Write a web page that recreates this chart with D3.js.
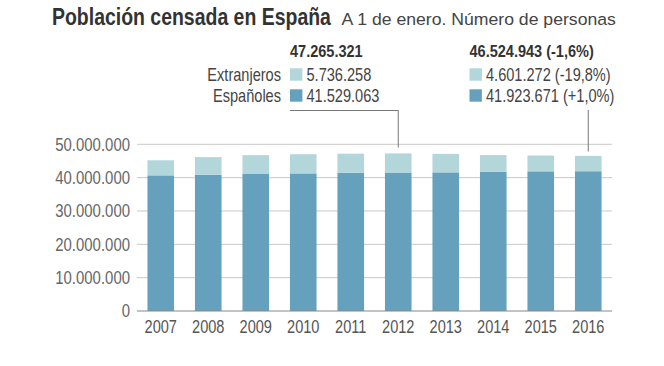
<!DOCTYPE html>
<html><head><meta charset="utf-8">
<script src="https://cdn.jsdelivr.net/npm/d3@7"></script>
<style>
body{margin:0;background:#fff;}
svg{display:block;}
</style></head>
<body>
<svg id="c" width="664" height="366"></svg>
<script>
const years = ["2007","2008","2009","2010","2011","2012","2013","2014","2015","2016"];
const espanoles = [40681183,40889060,41097136,41273297,41439006,41529063,41583545,41747854,41894738,41923671];
const extranjeros = [4519554,5268762,5648671,5747734,5751487,5736258,5546238,5023487,4729644,4601272];
const yTicks = [0,10000000,20000000,30000000,40000000,50000000];
const titleText = "Población censada en España";
const subtitleText = "A 1 de enero. Número de personas";
const seriesLabels = ["Extranjeros","Españoles"];
const note2012 = {year:"2012", total:"47.265.321", ext:"5.736.258", esp:"41.529.063"};
const note2016 = {year:"2016", total:"46.524.943 (-1,6%)", ext:"4.601.272 (-19,8%)", esp:"41.923.671 (+1,0%)"};

const colEsp = "#65a1bd", colExt = "#b3d6db";
const FONT = "'Liberation Sans',Arial,sans-serif";
const NARROW = 0.81;
const svg = d3.select("#c");

const x = d3.scaleBand().domain(years).range([137,612]).paddingInner(0.44).paddingOuter(0.22);
const y = d3.scaleLinear().domain([0,50000000]).range([311,144.3]);
const fmt = d3.formatLocale({decimal:",", thousands:".", grouping:[3], currency:["","€"]}).format(",");

// narrow text helper: places text at (tx,ty) horizontally compressed
function ntext(parent, tx, ty, str, opts){
  const o = Object.assign({size:18, weight:"normal", anchor:"start", fill:"#444", sx:NARROW, dy:null}, opts||{});
  const t = parent.append("text")
    .attr("transform", `translate(${tx},${ty}) scale(${o.sx},1)`)
    .attr("text-anchor", o.anchor).attr("font-family", FONT)
    .attr("font-size", o.size).attr("font-weight", o.weight).attr("fill", o.fill).text(str);
  if (o.dy) t.attr("dy", o.dy);
  return t;
}
function fitText(parent, tx, ty, str, width, opts){
  const t = ntext(parent, tx, ty, str, Object.assign({}, opts, {sx:1}));
  const w = t.node().getComputedTextLength();
  t.attr("transform", `translate(${tx},${ty}) scale(${width/w},1)`);
  return t;
}

// title
fitText(svg, 52, 25, titleText, 279, {size:23, weight:"bold", fill:"#333"});
fitText(svg, 341.5, 25, subtitleText, 274.5, {size:17, fill:"#444"});

// gridlines
svg.append("g").selectAll("line").data(yTicks.filter(d=>d>0)).join("line")
  .attr("x1",137).attr("x2",612).attr("y1",d=>y(d)).attr("y2",d=>y(d))
  .attr("stroke","#c8c8c8").attr("stroke-width",1);

// y labels
const yl = svg.append("g");
yTicks.forEach(d => ntext(yl, 130, y(d), fmt(d), {anchor:"end", fill:"#666", dy:"0.36em", sx:0.83}));

// bars
const g = svg.append("g");
g.selectAll("rect.esp").data(years).join("rect").attr("class","esp")
  .attr("x",d=>x(d)).attr("width",x.bandwidth())
  .attr("y",(d,i)=>y(espanoles[i])).attr("height",(d,i)=>y(0)-y(espanoles[i])).attr("fill",colEsp);
g.selectAll("rect.ext").data(years).join("rect").attr("class","ext")
  .attr("x",d=>x(d)).attr("width",x.bandwidth())
  .attr("y",(d,i)=>y(espanoles[i]+extranjeros[i])).attr("height",(d,i)=>y(espanoles[i])-y(espanoles[i]+extranjeros[i])).attr("fill",colExt);

// baseline
svg.append("line").attr("x1",137).attr("x2",612).attr("y1",y(0)).attr("y2",y(0)).attr("stroke","#888").attr("stroke-width",1.2);

// year labels
const xl = svg.append("g");
years.forEach(d => ntext(xl, x(d)+x.bandwidth()/2, 333, d, {anchor:"middle", fill:"#555", sx:0.81}));

// annotations
function note(n, x0){
  const a = svg.append("g");
  ntext(a, x0, 57, n.total, {size:17, weight:"bold", fill:"#333", sx:0.855});
  a.append("rect").attr("x",x0).attr("y",68.3).attr("width",12.4).attr("height",12.4).attr("fill",colExt);
  a.append("rect").attr("x",x0).attr("y",89.3).attr("width",12.4).attr("height",12.4).attr("fill",colEsp);
  ntext(a, x0+16.5, 80.7, n.ext, {});
  ntext(a, x0+16.5, 101.5, n.esp, {});
}
note(note2012, 290);
note(note2016, 469.5);
const sl = svg.append("g");
seriesLabels.forEach((d,i) => ntext(sl, 281, i ? 101.5 : 80.7, d, {anchor:"end"}));

// connector lines
const cx12 = x(note2012.year)+x.bandwidth()/2, cx16 = x(note2016.year)+x.bandwidth()/2;
svg.append("path").attr("d",`M290,110.5H${cx12}V147.5`).attr("fill","none").attr("stroke","#777").attr("stroke-width",1);
svg.append("path").attr("d",`M${cx16},110V151.5`).attr("fill","none").attr("stroke","#777").attr("stroke-width",1);
</script>
</body></html>
